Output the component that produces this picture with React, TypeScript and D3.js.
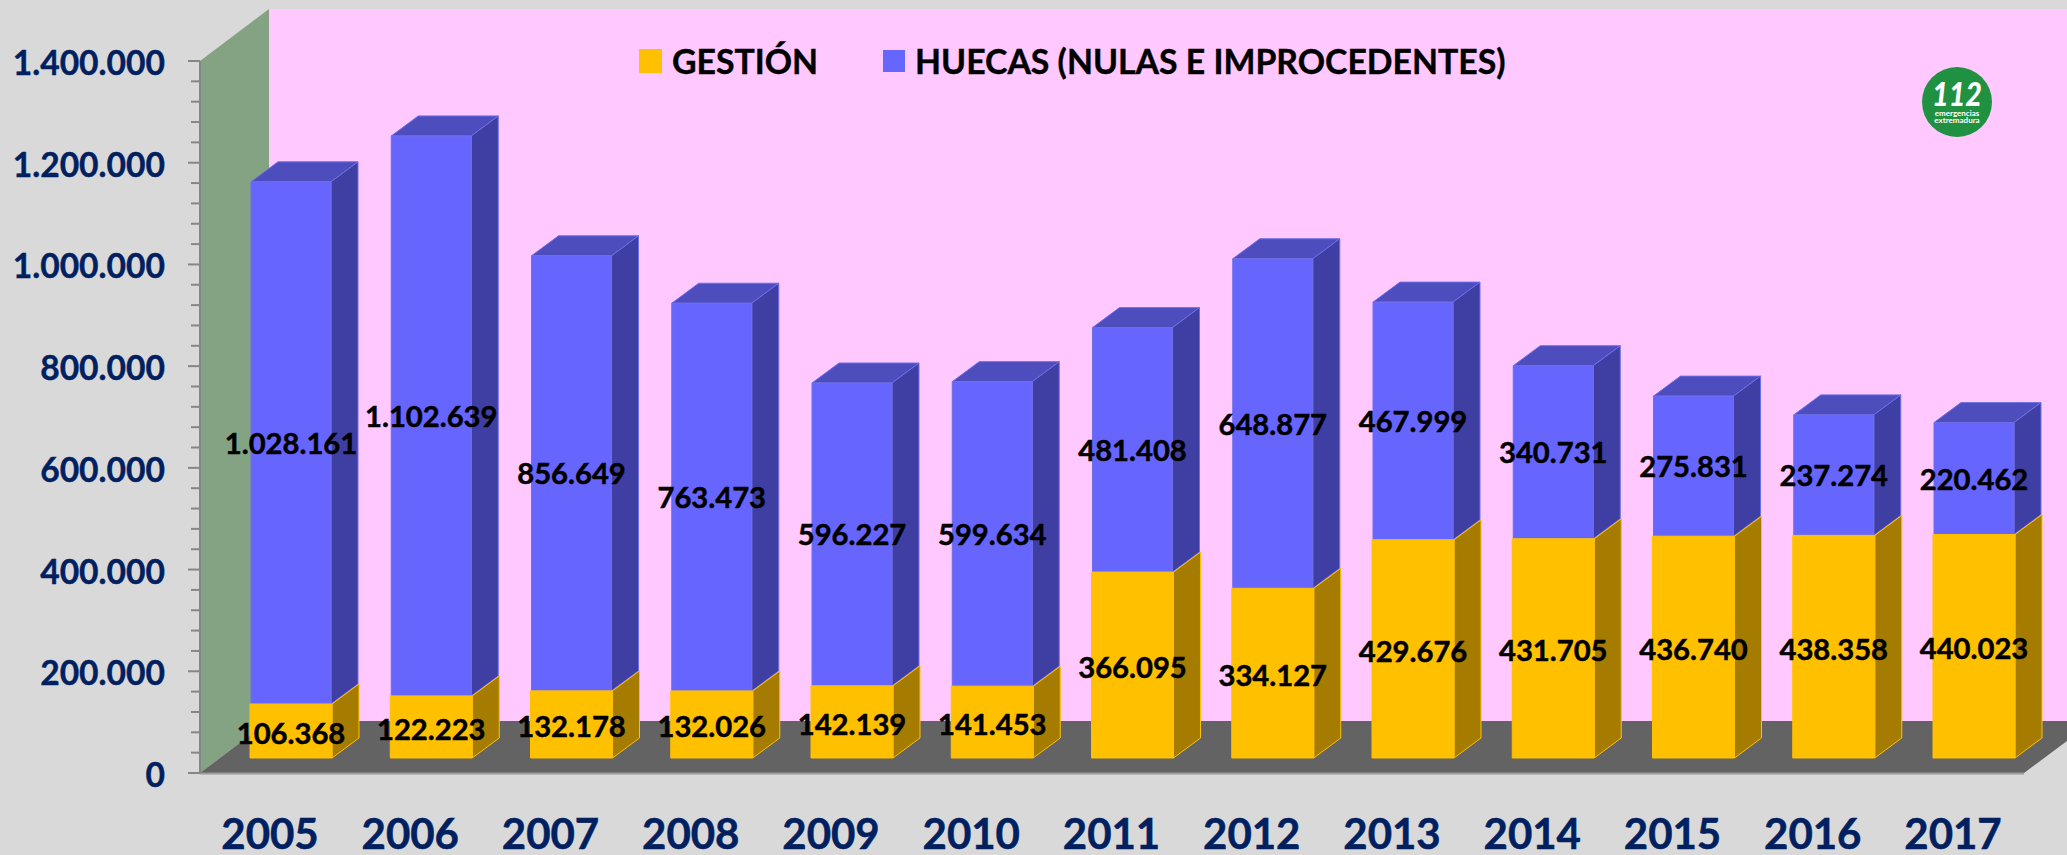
import React from "react";
import * as d3 from "d3";

const years = ["2005","2006","2007","2008","2009","2010","2011","2012","2013","2014","2015","2016","2017"];
const gestion = [106368,122223,132178,132026,142139,141453,366095,334127,429676,431705,436740,438358,440023];
const huecas = [1028161,1102639,856649,763473,596227,599634,481408,648877,467999,340731,275831,237274,220462];
const majorTicks = [0,200000,400000,600000,800000,1000000,1200000,1400000];
const seriesNames = ["GESTIÓN","HUECAS (NULAS E IMPROCEDENTES)"];

const W = 2067, H = 855;
const FONT = "Lato, Carlito, 'Open Sans', sans-serif";
const NAVY = "#002060";
const fmt = (v: number) => String(v).replace(/\B(?=(\d{3})+(?!\d))/g, ".");

// Axis is on the front plane; the bars stand further in, on the floor.
const axisY = d3.scaleLinear().domain([0, 1400000]).range([773, 61]);
const barBase = 758;
const barScale = d3.scaleLinear().domain([0, 1400000]).range([barBase, barBase - 711]);
const slot = d3.scalePoint<string>().domain(years).range([291, 291 + 140.25 * 12]);
const depth = { x: 27, y: -20 };
const wall = { x: 69, y: -52 };

const pts = (p: number[][]) => p.map(q => q.join(",")).join(" ");

function Box({ cx, hw, y0, y1, front, side, top, stroke }: any) {
  const l = cx - hw, r = cx + hw;
  return (
    <g stroke={stroke} strokeWidth={1} strokeLinejoin="round">
      {top && <polygon fill={top} points={pts([[l,y1],[l+depth.x,y1+depth.y],[r+depth.x,y1+depth.y],[r,y1]])} />}
      <polygon fill={side} points={pts([[r,y0],[r+depth.x,y0+depth.y],[r+depth.x,y1+depth.y],[r,y1]])} />
      <rect x={l} y={y1} width={r-l} height={y0-y1} fill={front} />
    </g>
  );
}

export default function App() {
  const x0 = 200, yB = axisY(0), yT = axisY(1400000);
  const minorTicks = d3.range(0, 1400000, 40000).filter(v => v % 200000 !== 0);
  return (
    <svg width={W} height={H} viewBox={`0 0 ${W} ${H}`}
      style={{ position: "absolute", left: 0, top: 0, display: "block", background: "#d9d9d9" }}>
      {/* back wall */}
      <rect x={x0 + wall.x} y={yT + wall.y} width={W - x0 - wall.x} height={yB - yT + 1} fill="#ffc9ff" />
      {/* side wall */}
      <polygon fill="#84a383" points={pts([[x0,yT],[x0+wall.x,yT+wall.y],[x0+wall.x,yB+wall.y],[x0,yB]])} />
      {/* floor */}
      <polygon fill="#636363" points={pts([[x0,yB],[x0+wall.x,yB+wall.y],[W,yB+wall.y],[W,741],[2024,yB]])} />
      <line x1={x0} y1={yB+0.5} x2={2024} y2={yB+0.5} stroke="#9a9a9a" strokeWidth={2} />

      {/* axis */}
      <line x1={x0} y1={yT} x2={x0} y2={yB} stroke="#868686" strokeWidth={2} />
      {majorTicks.map(v => (
        <g key={v}>
          <line x1={188} x2={x0} y1={axisY(v)} y2={axisY(v)} stroke="#868686" strokeWidth={2} />
          <text x={165} y={axisY(v)+14} textAnchor="end" fontFamily={FONT} fontWeight={700} fontSize={33.6} stroke={NAVY} strokeWidth={0.4} fill={NAVY}>{fmt(v)}</text>
        </g>
      ))}
      {minorTicks.map(v => (
        <line key={v} x1={191} x2={x0} y1={axisY(v)} y2={axisY(v)} stroke="#868686" strokeWidth={2} />
      ))}

      {/* bars */}
      {years.map((y, i) => {
        const cx = slot(y)!;
        const yG = barScale(gestion[i]);
        const yH = barScale(gestion[i] + huecas[i]);
        return (
          <g key={y}>
            <Box cx={cx} hw={40} y0={yG} y1={yH} front="#6666ff" side="#3f3fa3" top="#4d4dbd" stroke="#6e6ee6" />
            <Box cx={cx} hw={41} y0={barBase} y1={yG} front="#ffc000" side="#a67c00" stroke="#ffc000" />
          </g>
        );
      })}
      {/* value labels */}
      {years.map((y, i) => {
        const cx = slot(y)!;
        const yG = barScale(gestion[i]);
        const yH = barScale(gestion[i] + huecas[i]);
        const common = { x: cx, textAnchor: "middle" as const, fontFamily: FONT, fontWeight: 700, fontSize: 29.2, fill: "#000", stroke: "#000", strokeWidth: 0.5 };
        return (
          <g key={y}>
            <text {...common} y={(yG + yH) / 2 + 11}>{fmt(huecas[i])}</text>
            <text {...common} y={(barBase + yG) / 2 + 13}>{fmt(gestion[i])}</text>
          </g>
        );
      })}
      {/* years */}
      {years.map(y => (
        <text key={y} x={slot(y)! - 21} y={849} textAnchor="middle" fontFamily={FONT} fontWeight={700} fontSize={42} stroke={NAVY} strokeWidth={0.5} fill={NAVY}>{y}</text>
      ))}

      {/* legend */}
      <rect x={639} y={49} width={23} height={24} fill="#ffc000" />
      <text x={672} y={74} fontFamily={FONT} fontWeight={700} fontSize={33.8} stroke="#000" strokeWidth={0.4} fill="#000">{seriesNames[0]}</text>
      <rect x={883} y={50} width={22} height={22} fill="#6666ff" />
      <text x={915} y={74} fontFamily={FONT} fontWeight={700} fontSize={33.8} stroke="#000" strokeWidth={0.4} fill="#000">{seriesNames[1]}</text>

      {/* logo */}
      <circle cx={1957} cy={102} r={35} fill="#1f9141" />
      <text x={1932} y={106} textLength={50} lengthAdjust="spacingAndGlyphs" fontFamily={FONT} fontWeight={900} fontStyle="italic" fontSize={33} fill="#fff">112</text>
      <text x={1957} y={116} textAnchor="middle" fontFamily={FONT} fontWeight={700} fontSize={8} fill="#fff">emergencias</text>
      <text x={1957} y={123} textAnchor="middle" fontFamily={FONT} fontWeight={700} fontSize={8} fill="#fff">extremadura</text>
    </svg>
  );
}
